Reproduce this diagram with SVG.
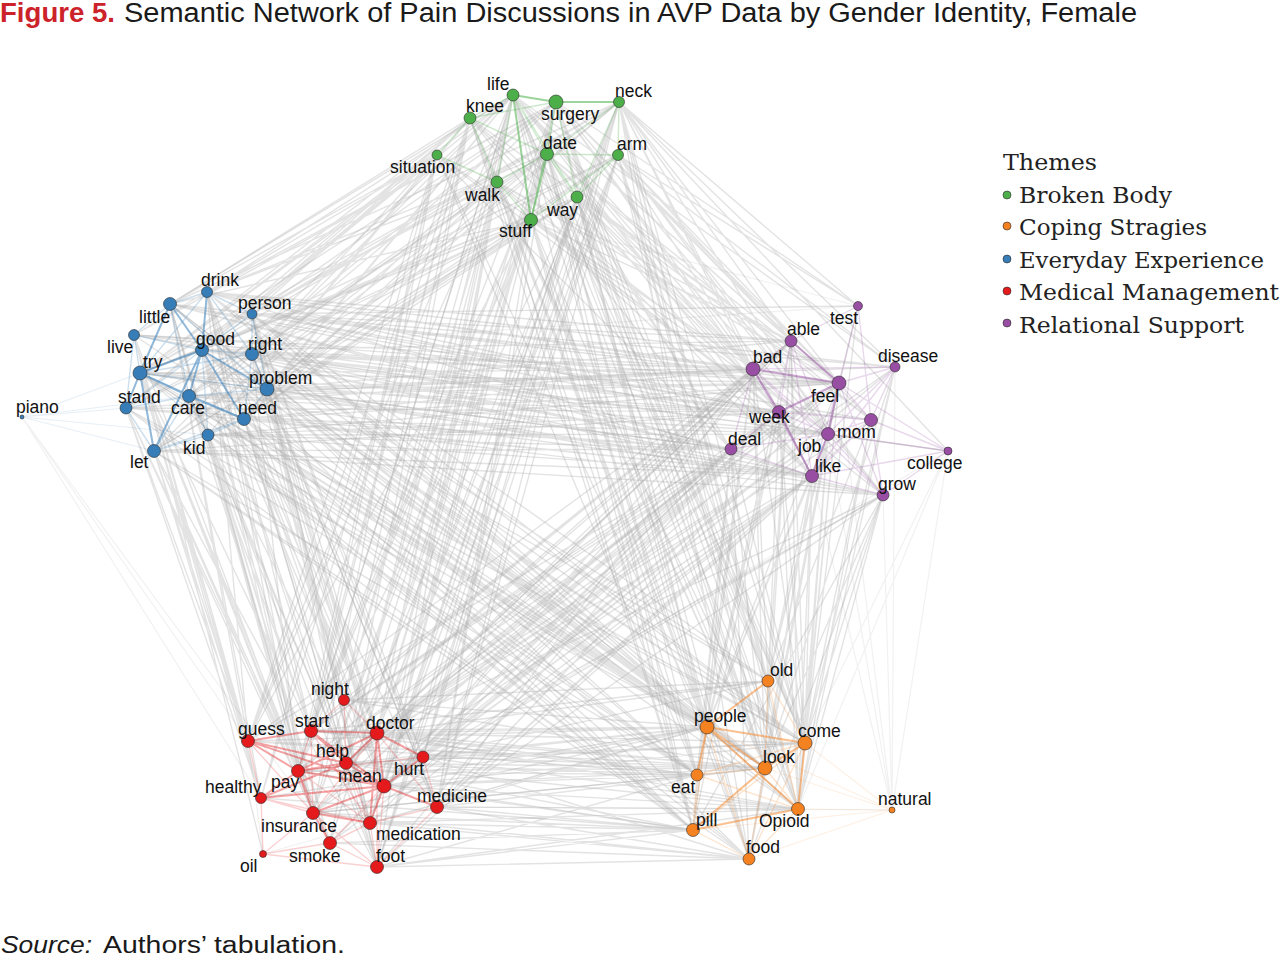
<svg xmlns="http://www.w3.org/2000/svg" width="1280" height="959" viewBox="0 0 1280 959">
<style>
.e{fill:none;stroke:#a8a8a8;stroke-opacity:.32;stroke-width:1.4}
.ef{fill:none;stroke:#a8a8a8;stroke-opacity:.16;stroke-width:1.2}
.gS{fill:none;stroke:#4daf4a;stroke-opacity:.55;stroke-width:2}
.gW{fill:none;stroke:#4daf4a;stroke-opacity:.28;stroke-width:1.4}
.bS{fill:none;stroke:#377eb8;stroke-opacity:.55;stroke-width:2}
.bW{fill:none;stroke:#377eb8;stroke-opacity:.25;stroke-width:1.4}
.pS{fill:none;stroke:#984ea3;stroke-opacity:.5;stroke-width:2}
.pW{fill:none;stroke:#984ea3;stroke-opacity:.22;stroke-width:1.4}
.rS{fill:none;stroke:#e41a1c;stroke-opacity:.4;stroke-width:2}
.rW{fill:none;stroke:#e41a1c;stroke-opacity:.2;stroke-width:1.4}
.oS{fill:none;stroke:#f58220;stroke-opacity:.5;stroke-width:2}
.oW{fill:none;stroke:#f58220;stroke-opacity:.22;stroke-width:1.4}
.oF{fill:none;stroke:#f58220;stroke-opacity:.12;stroke-width:1.2}
.bF{fill:none;stroke:#377eb8;stroke-opacity:.12;stroke-width:1.2}
.nd{stroke:#2a2a2a;stroke-opacity:.75;stroke-width:.8}
.G{fill:#4daf4a}.B{fill:#377eb8}.P{fill:#984ea3}.R{fill:#e41a1c}.O{fill:#f58220}
.lb{font-family:"Liberation Sans",Arial,sans-serif;font-size:17.5px;fill:#111}
.lg{font-family:"DejaVu Serif","Liberation Serif",serif;font-size:22px;fill:#222}
</style>
<rect width="1280" height="959" fill="#fff"/>
<g id="title">
<text x="0" y="22" font-family="Liberation Sans,Arial,sans-serif" font-size="27" font-weight="bold" fill="#cc2229" textLength="115" lengthAdjust="spacingAndGlyphs">Figure 5.</text>
<text x="124" y="22" font-family="Liberation Sans,Arial,sans-serif" font-size="27" fill="#1a1a1a" textLength="1013" lengthAdjust="spacingAndGlyphs">Semantic Network of Pain Discussions in AVP Data by Gender Identity, Female</text>
</g>
<g id="connectors">
<path class="e" d="M513 95L207 292M513 95L202 350M513 95L140 373M513 95L267 389M513 95L244 419M513 95L154 451M470 118L170 304M470 118L252 314M470 118L202 350M470 118L140 373M470 118L126 408M470 118L208 435M556 102L207 292M556 102L252 354M556 102L267 389M556 102L189 396M556 102L134 335M619 102L252 314M619 102L202 350M619 102L244 419M619 102L140 373M619 102L170 304M547 154L207 292M547 154L252 354M547 154L140 373M547 154L189 396M547 154L154 451M547 154L267 389M618 155L202 350M618 155L267 389M618 155L244 419M618 155L126 408M437 155L170 304M437 155L134 335M437 155L140 373M437 155L202 350M437 155L252 354M437 155L126 408M437 155L208 435M497 182L207 292M497 182L252 314M497 182L189 396M497 182L244 419M497 182L154 451M577 197L202 350M577 197L140 373M577 197L267 389M577 197L208 435M531 220L170 304M531 220L252 354M531 220L189 396M531 220L154 451M531 220L244 419M531 220L126 408"/>
<path class="e" d="M513 95L791 341M513 95L753 369M513 95L839 383M513 95L779 412M513 95L828 434M513 95L812 476M513 95L895 367M470 118L753 369M470 118L839 383M470 118L731 449M470 118L812 476M556 102L791 341M556 102L753 369M556 102L839 383M556 102L858 306M556 102L871 420M556 102L779 412M556 102L883 495M619 102L791 341M619 102L753 369M619 102L895 367M619 102L839 383M619 102L858 306M619 102L828 434M619 102L812 476M619 102L948 451M547 154L753 369M547 154L779 412M547 154L731 449M547 154L839 383M547 154L871 420M618 155L791 341M618 155L753 369M618 155L895 367M618 155L839 383M618 155L828 434M618 155L883 495M618 155L858 306M437 155L753 369M437 155L779 412M437 155L731 449M497 182L791 341M497 182L839 383M497 182L828 434M497 182L812 476M577 197L753 369M577 197L839 383M577 197L731 449M577 197L779 412M577 197L812 476M577 197L871 420M531 220L791 341M531 220L753 369M531 220L779 412M531 220L828 434M531 220L883 495"/>
<path class="e" d="M513 95L311 731M513 95L377 733M513 95L248 741M513 95L346 763M513 95L384 786M513 95L313 813M513 95L377 867M470 118L344 700M470 118L311 731M470 118L248 741M470 118L298 771M470 118L261 798M470 118L330 843M556 102L377 733M556 102L346 763M556 102L384 786M556 102L437 807M556 102L370 823M619 102L377 733M619 102L423 757M619 102L384 786M619 102L377 867M547 154L311 731M547 154L377 733M547 154L298 771M547 154L313 813M547 154L330 843M547 154L437 807M618 155L377 733M618 155L384 786M618 155L370 823M437 155L248 741M437 155L261 798M437 155L298 771M437 155L311 731M437 155L313 813M497 182L344 700M497 182L377 733M497 182L346 763M497 182L384 786M497 182L377 867M497 182L248 741M577 197L377 733M577 197L423 757M577 197L370 823M577 197L298 771M531 220L311 731M531 220L248 741M531 220L384 786M531 220L313 813M531 220L330 843M531 220L437 807"/>
<path class="e" d="M513 95L707 727M513 95L765 768M513 95L805 743M513 95L693 830M470 118L707 727M470 118L697 775M470 118L765 768M556 102L768 681M556 102L707 727M556 102L805 743M556 102L765 768M556 102L798 809M619 102L768 681M619 102L805 743M619 102L765 768M619 102L798 809M619 102L749 859M547 154L707 727M547 154L697 775M547 154L765 768M547 154L693 830M618 155L768 681M618 155L805 743M618 155L798 809M618 155L765 768M437 155L707 727M437 155L697 775M497 182L707 727M497 182L765 768M497 182L749 859M577 197L768 681M577 197L707 727M577 197L805 743M577 197L798 809M531 220L707 727M531 220L697 775M531 220L765 768M531 220L693 830M531 220L749 859"/>
<path class="e" d="M207 292L791 341M207 292L753 369M207 292L839 383M207 292L779 412M207 292L828 434M207 292L895 367M170 304L753 369M170 304L839 383M170 304L731 449M170 304L812 476M252 314L791 341M252 314L753 369M252 314L839 383M252 314L871 420M252 314L858 306M252 314L895 367M252 314L779 412M134 335L753 369M134 335L779 412M134 335L731 449M202 350L791 341M202 350L753 369M202 350L839 383M202 350L779 412M202 350L828 434M202 350L812 476M202 350L883 495M252 354L753 369M252 354L839 383M252 354L731 449M252 354L871 420M252 354L948 451M140 373L753 369M140 373L779 412M140 373L828 434M140 373L812 476M267 389L791 341M267 389L753 369M267 389L839 383M267 389L779 412M267 389L731 449M267 389L812 476M267 389L883 495M267 389L895 367M126 408L753 369M126 408L731 449M126 408L812 476M189 396L839 383M189 396L779 412M189 396L828 434M244 419L753 369M244 419L839 383M244 419L731 449M244 419L812 476M244 419L883 495M244 419L828 434M208 435L779 412M208 435L731 449M208 435L812 476M154 451L812 476M154 451L883 495M154 451L731 449"/>
<path class="e" d="M207 292L311 731M207 292L377 733M207 292L248 741M207 292L384 786M207 292L313 813M170 304L248 741M170 304L298 771M170 304L261 798M170 304L330 843M252 314L377 733M252 314L346 763M252 314L384 786M252 314L423 757M252 314L437 807M134 335L248 741M134 335L261 798M134 335L298 771M134 335L263 854M202 350L311 731M202 350L377 733M202 350L346 763M202 350L384 786M202 350L298 771M202 350L313 813M202 350L377 867M252 354L377 733M252 354L423 757M252 354L384 786M252 354L370 823M140 373L248 741M140 373L311 731M140 373L298 771M140 373L261 798M140 373L330 843M140 373L313 813M267 389L377 733M267 389L423 757M267 389L437 807M267 389L384 786M267 389L344 700M267 389L377 867M126 408L248 741M126 408L261 798M126 408L298 771M126 408L313 813M189 396L311 731M189 396L346 763M189 396L384 786M189 396L330 843M244 419L377 733M244 419L384 786M244 419L437 807M244 419L370 823M244 419L377 867M244 419L344 700M208 435L311 731M208 435L298 771M208 435L313 813M208 435L330 843M154 451L248 741M154 451L261 798M154 451L313 813M154 451L377 867M154 451L330 843"/>
<path class="e" d="M207 292L707 727M207 292L765 768M207 292L805 743M170 304L707 727M170 304L697 775M252 314L707 727M252 314L805 743M252 314L765 768M252 314L798 809M252 314L768 681M202 350L707 727M202 350L765 768M202 350L697 775M202 350L693 830M202 350L805 743M252 354L768 681M252 354L707 727M252 354L805 743M252 354L765 768M140 373L707 727M140 373L693 830M140 373L697 775M267 389L768 681M267 389L707 727M267 389L805 743M267 389L765 768M267 389L798 809M267 389L749 859M126 408L697 775M126 408L693 830M189 396L707 727M189 396L765 768M244 419L707 727M244 419L805 743M244 419L765 768M244 419L798 809M244 419L693 830M244 419L749 859M208 435L697 775M208 435L693 830M208 435L749 859M154 451L693 830M154 451L749 859"/>
<path class="e" d="M791 341L344 700M791 341L377 733M791 341L311 731M791 341L384 786M753 369L377 733M753 369L248 741M753 369L311 731M753 369L346 763M753 369L384 786M753 369L313 813M895 367L377 733M895 367L384 786M895 367L423 757M839 383L377 733M839 383L311 731M839 383L346 763M839 383L384 786M839 383L298 771M839 383L437 807M779 412L377 733M779 412L423 757M779 412L384 786M779 412L313 813M779 412L370 823M871 420L377 733M871 420L437 807M828 434L377 733M828 434L423 757M828 434L384 786M828 434L346 763M731 449L311 731M731 449L377 733M731 449L248 741M731 449L298 771M731 449L313 813M731 449L330 843M731 449L377 867M812 476L377 733M812 476L384 786M812 476L437 807M812 476L370 823M812 476L377 867M812 476L423 757M883 495L377 733M883 495L423 757M883 495L437 807"/>
<path class="e" d="M791 341L768 681M791 341L707 727M791 341L805 743M791 341L765 768M791 341L697 775M753 369L768 681M753 369L707 727M753 369L765 768M753 369L697 775M753 369L693 830M895 367L805 743M895 367L798 809M895 367L765 768M839 383L768 681M839 383L707 727M839 383L805 743M839 383L765 768M839 383L798 809M839 383L749 859M779 412L707 727M779 412L765 768M779 412L697 775M779 412L693 830M871 420L805 743M871 420L798 809M871 420L768 681M828 434L768 681M828 434L707 727M828 434L805 743M828 434L765 768M828 434L798 809M731 449L707 727M731 449L697 775M731 449L693 830M731 449L749 859M731 449L765 768M812 476L768 681M812 476L707 727M812 476L805 743M812 476L765 768M812 476L798 809M812 476L749 859M883 495L805 743M883 495L798 809M883 495L765 768M858 306L805 743M858 306L768 681"/>
<path class="e" d="M344 700L768 681M344 700L707 727M344 700L765 768M311 731L707 727M311 731L805 743M311 731L765 768M377 733L768 681M377 733L707 727M377 733L805 743M377 733L765 768M377 733L798 809M377 733L697 775M346 763L707 727M346 763L765 768M346 763L697 775M346 763L693 830M423 757L768 681M423 757L707 727M423 757L805 743M423 757L765 768M423 757L798 809M423 757L749 859M384 786L707 727M384 786L805 743M384 786L765 768M384 786L798 809M384 786L693 830M384 786L697 775M437 807L707 727M437 807L765 768M437 807L798 809M437 807L693 830M437 807L749 859M313 813L697 775M313 813L693 830M313 813L749 859M370 823L707 727M370 823L798 809M370 823L693 830M370 823L749 859M330 843L693 830M330 843L749 859M377 867L693 830M377 867L749 859M377 867L798 809M377 867L697 775M248 741L707 727M298 771L707 727M298 771L765 768"/>
<path class="e" d="M513 95L170 304M513 95L189 396M556 102L202 350M556 102L140 373M619 102L267 389M619 102L252 354M577 197L244 419M577 197L154 451M531 220L202 350M531 220L140 373M619 102L437 807M619 102L346 763M618 155L423 757M618 155L437 807M618 155L377 867M577 197L384 786M577 197L377 867M556 102L311 731M513 95L298 771M170 304L779 412M170 304L828 434M134 335L839 383M140 373L839 383M140 373L731 449M126 408L779 412M208 435L828 434M208 435L839 383M154 451L779 412M189 396L753 369M189 396L812 476M207 292L812 476"/>
<path class="e" d="M207 292L346 763M207 292L298 771M170 304L313 813M252 314L370 823M252 314L377 867M252 354L298 771M252 354L437 807M208 435L377 867M208 435L346 763M170 304L765 768M134 335L707 727M140 373L765 768M140 373L805 743M126 408L707 727M189 396L697 775M189 396L693 830M208 435L707 727M154 451L697 775M791 341L346 763M791 341L298 771M753 369L298 771M753 369L437 807M779 412L311 731M779 412L346 763M731 449L384 786M731 449L346 763M812 476L313 813M812 476L330 843M883 495L384 786"/>
<path class="e" d="M791 341L798 809M753 369L805 743M779 412L805 743M779 412L798 809M731 449L805 743M883 495L749 859M883 495L693 830M248 741L765 768M248 741L697 775M311 731L768 681M311 731L697 775M346 763L805 743M346 763L798 809M261 798L693 830M261 798L707 727M298 771L693 830M298 771L697 775M313 813L707 727M313 813L765 768M513 95L768 681M513 95L798 809M470 118L693 830M547 154L805 743M547 154L749 859M497 182L693 830M497 182L798 809M577 197L765 768M577 197L749 859"/>
<path class="ef" d="M22 417L248 741M22 417L261 798M22 417L313 813M948 451L798 809M948 451L892 810M948 451L805 743M895 367L892 810M883 495L892 810M437 807L892 810M892 810L828 434M892 810L812 476M892 810L839 383M263 854L707 727M263 854L248 741M858 306L531 220M858 306L202 350M948 451L252 354M948 451L384 786"/>
<path class="gW" d="M513 95L547 154M513 95L470 118M513 95L497 182M513 95L577 197M470 118L547 154M470 118L497 182M619 102L618 155M619 102L547 154M556 102L547 154M556 102L531 220M556 102L577 197M547 154L497 182M547 154L577 197M618 155L577 197M618 155L531 220M437 155L497 182M437 155L470 118M619 102L577 197M531 220L497 182M618 155L547 154M470 118L556 102"/>
<path class="gS" d="M556 102L619 102M513 95L556 102M513 95L531 220M547 154L531 220"/>
<path class="bF" d="M22 417L154 451M22 417L126 408M22 417L140 373M22 417L202 350M22 417L189 396M22 417L208 435"/>
<path class="bW" d="M207 292L140 373M207 292L170 304M207 292L252 354M207 292L252 314M252 314L202 350M252 314L252 354M252 314L267 389M134 335L140 373M134 335L202 350M134 335L170 304M252 354L202 350M252 354L267 389M252 354L244 419M267 389L244 419M267 389L189 396M267 389L140 373M126 408L154 451M126 408L189 396M189 396L208 435M189 396L154 451M208 435L244 419M208 435L154 451M208 435L202 350M154 451L244 419M134 335L126 408M140 373L252 354M140 373L244 419M126 408L202 350M170 304L189 396M170 304L267 389"/>
<path class="bS" d="M170 304L202 350M170 304L140 373M140 373L202 350M202 350L244 419M140 373L154 451M140 373L189 396M189 396L244 419M207 292L202 350M202 350L154 451M202 350L189 396M140 373L126 408M202 350L267 389"/>
<path class="pW" d="M791 341L753 369M791 341L779 412M791 341L828 434M753 369L731 449M753 369L828 434M753 369L895 367M858 306L839 383M858 306L871 420M858 306L791 341M895 367L839 383M895 367L871 420M895 367L828 434M895 367L812 476M839 383L871 420M839 383L812 476M839 383L883 495M779 412L731 449M779 412L871 420M779 412L828 434M871 420L828 434M871 420L883 495M871 420L812 476M828 434L883 495M731 449L812 476M731 449L828 434M812 476L883 495M948 451L828 434M948 451L871 420M948 451L839 383M948 451L812 476M948 451L883 495M753 369L812 476M753 369L883 495M791 341L812 476"/>
<path class="pS" d="M753 369L839 383M839 383L779 412M839 383L828 434M828 434L812 476M753 369L779 412M791 341L839 383M779 412L812 476"/>
<path class="rW" d="M344 700L311 731M344 700L377 733M344 700L346 763M423 757L437 807M437 807L370 823M437 807L377 867M370 823L377 867M370 823L330 843M330 843L377 867M263 854L313 813M263 854L330 843M263 854L377 867M263 854L261 798M248 741L261 798M248 741L313 813M261 798L313 813M261 798L370 823M311 731L313 813M311 731L298 771M311 731L370 823M377 733L313 813M377 733L377 867M377 733L437 807M346 763L370 823M423 757L298 771M298 771L370 823M298 771L330 843M384 786L377 867M384 786L330 843M313 813L377 867"/>
<path class="rS" d="M248 741L311 731M311 731L377 733M311 731L346 763M311 731L384 786M377 733L346 763M377 733L384 786M377 733L298 771M377 733L370 823M346 763L384 786M298 771L384 786M298 771L313 813M298 771L346 763M384 786L313 813M384 786L370 823M384 786L437 807M248 741L298 771M248 741L346 763M248 741L384 786M423 757L377 733M423 757L384 786M313 813L370 823M313 813L330 843M261 798L298 771M261 798L384 786M261 798L346 763"/>
<path class="oF" d="M892 810L805 743M892 810L798 809M892 810L765 768M892 810L693 830M892 810L749 859M892 810L707 727"/>
<path class="oW" d="M768 681L765 768M768 681L805 743M768 681L798 809M697 775L693 830M697 775L765 768M697 775L805 743M693 830L749 859M798 809L749 859M765 768L749 859M765 768L798 809M707 727L693 830M707 727L749 859M805 743L693 830M697 775L798 809M805 743L749 859"/>
<path class="oS" d="M707 727L805 743M707 727L798 809M765 768L805 743M805 743L798 809M707 727L765 768M765 768L693 830M693 830L798 809M768 681L707 727M707 727L697 775"/>
</g>
<g id="n-life"><circle class="nd G" cx="513" cy="95" r="6"/><text class="lb" x="487" y="90">life</text></g>
<g id="n-knee"><circle class="nd G" cx="470" cy="118" r="6"/><text class="lb" x="466" y="112">knee</text></g>
<g id="n-surgery"><circle class="nd G" cx="556" cy="102" r="7"/><text class="lb" x="541" y="120">surgery</text></g>
<g id="n-neck"><circle class="nd G" cx="619" cy="102" r="5.5"/><text class="lb" x="615" y="97">neck</text></g>
<g id="n-date"><circle class="nd G" cx="547" cy="154" r="6.5"/><text class="lb" x="543" y="149">date</text></g>
<g id="n-arm"><circle class="nd G" cx="618" cy="155" r="5.5"/><text class="lb" x="617" y="150">arm</text></g>
<g id="n-situation"><circle class="nd G" cx="437" cy="155" r="5"/><text class="lb" x="390" y="173">situation</text></g>
<g id="n-walk"><circle class="nd G" cx="497" cy="182" r="6"/><text class="lb" x="465" y="201">walk</text></g>
<g id="n-way"><circle class="nd G" cx="577" cy="197" r="6"/><text class="lb" x="547" y="216">way</text></g>
<g id="n-stuff"><circle class="nd G" cx="531" cy="220" r="6.5"/><text class="lb" x="499" y="237">stuff</text></g>
<g id="n-drink"><circle class="nd B" cx="207" cy="292" r="5.5"/><text class="lb" x="201" y="286">drink</text></g>
<g id="n-little"><circle class="nd B" cx="170" cy="304" r="6.5"/><text class="lb" x="139" y="323">little</text></g>
<g id="n-person"><circle class="nd B" cx="252" cy="314" r="5"/><text class="lb" x="238" y="309">person</text></g>
<g id="n-live"><circle class="nd B" cx="134" cy="335" r="5.5"/><text class="lb" x="107" y="353">live</text></g>
<g id="n-good"><circle class="nd B" cx="202" cy="350" r="6.5"/><text class="lb" x="196" y="345">good</text></g>
<g id="n-right"><circle class="nd B" cx="252" cy="354" r="6.5"/><text class="lb" x="248" y="350">right</text></g>
<g id="n-try"><circle class="nd B" cx="140" cy="373" r="7"/><text class="lb" x="143" y="368">try</text></g>
<g id="n-problem"><circle class="nd B" cx="267" cy="389" r="7"/><text class="lb" x="249" y="384">problem</text></g>
<g id="n-stand"><circle class="nd B" cx="126" cy="408" r="6"/><text class="lb" x="118" y="403">stand</text></g>
<g id="n-care"><circle class="nd B" cx="189" cy="396" r="6.5"/><text class="lb" x="171" y="414">care</text></g>
<g id="n-need"><circle class="nd B" cx="244" cy="419" r="6.5"/><text class="lb" x="238" y="414">need</text></g>
<g id="n-kid"><circle class="nd B" cx="208" cy="435" r="6"/><text class="lb" x="183" y="454">kid</text></g>
<g id="n-let"><circle class="nd B" cx="154" cy="451" r="6.5"/><text class="lb" x="130" y="468">let</text></g>
<g id="n-piano"><circle class="nd B" cx="22" cy="417" r="2"/><text class="lb" x="16" y="413">piano</text></g>
<g id="n-test"><circle class="nd P" cx="858" cy="306" r="4.5"/><text class="lb" x="830" y="324">test</text></g>
<g id="n-able"><circle class="nd P" cx="791" cy="341" r="6"/><text class="lb" x="787" y="335">able</text></g>
<g id="n-bad"><circle class="nd P" cx="753" cy="369" r="7"/><text class="lb" x="753" y="363">bad</text></g>
<g id="n-disease"><circle class="nd P" cx="895" cy="367" r="5"/><text class="lb" x="878" y="362">disease</text></g>
<g id="n-feel"><circle class="nd P" cx="839" cy="383" r="7"/><text class="lb" x="811" y="402">feel</text></g>
<g id="n-week"><circle class="nd P" cx="779" cy="412" r="6.5"/><text class="lb" x="749" y="423">week</text></g>
<g id="n-mom"><circle class="nd P" cx="871" cy="420" r="6.5"/><text class="lb" x="837" y="438">mom</text></g>
<g id="n-job"><circle class="nd P" cx="828" cy="434" r="6.5"/><text class="lb" x="798" y="452">job</text></g>
<g id="n-deal"><circle class="nd P" cx="731" cy="449" r="6"/><text class="lb" x="728" y="445">deal</text></g>
<g id="n-like"><circle class="nd P" cx="812" cy="476" r="6.5"/><text class="lb" x="815" y="472">like</text></g>
<g id="n-college"><circle class="nd P" cx="948" cy="451" r="4"/><text class="lb" x="907" y="469">college</text></g>
<g id="n-grow"><circle class="nd P" cx="883" cy="495" r="6"/><text class="lb" x="878" y="490">grow</text></g>
<g id="n-night"><circle class="nd R" cx="344" cy="700" r="5.5"/><text class="lb" x="311" y="695">night</text></g>
<g id="n-start"><circle class="nd R" cx="311" cy="731" r="6.5"/><text class="lb" x="295" y="727">start</text></g>
<g id="n-doctor"><circle class="nd R" cx="377" cy="733" r="7"/><text class="lb" x="366" y="729">doctor</text></g>
<g id="n-guess"><circle class="nd R" cx="248" cy="741" r="6.5"/><text class="lb" x="238" y="735">guess</text></g>
<g id="n-help"><circle class="nd R" cx="346" cy="763" r="6.5"/><text class="lb" x="316" y="757">help</text></g>
<g id="n-hurt"><circle class="nd R" cx="423" cy="757" r="6"/><text class="lb" x="394" y="775">hurt</text></g>
<g id="n-pay"><circle class="nd R" cx="298" cy="771" r="6.5"/><text class="lb" x="271" y="788">pay</text></g>
<g id="n-mean"><circle class="nd R" cx="384" cy="786" r="7"/><text class="lb" x="338" y="782">mean</text></g>
<g id="n-healthy"><circle class="nd R" cx="261" cy="798" r="5.5"/><text class="lb" x="205" y="793">healthy</text></g>
<g id="n-medicine"><circle class="nd R" cx="437" cy="807" r="6.5"/><text class="lb" x="417" y="802">medicine</text></g>
<g id="n-insurance"><circle class="nd R" cx="313" cy="813" r="6.5"/><text class="lb" x="261" y="832">insurance</text></g>
<g id="n-medication"><circle class="nd R" cx="370" cy="823" r="6.5"/><text class="lb" x="376" y="840">medication</text></g>
<g id="n-smoke"><circle class="nd R" cx="330" cy="843" r="6.5"/><text class="lb" x="289" y="862">smoke</text></g>
<g id="n-oil"><circle class="nd R" cx="263" cy="854" r="3.5"/><text class="lb" x="240" y="872">oil</text></g>
<g id="n-foot"><circle class="nd R" cx="377" cy="867" r="6.5"/><text class="lb" x="376" y="862">foot</text></g>
<g id="n-old"><circle class="nd O" cx="768" cy="681" r="6"/><text class="lb" x="770" y="676">old</text></g>
<g id="n-people"><circle class="nd O" cx="707" cy="727" r="7"/><text class="lb" x="694" y="722">people</text></g>
<g id="n-come"><circle class="nd O" cx="805" cy="743" r="7"/><text class="lb" x="798" y="737">come</text></g>
<g id="n-look"><circle class="nd O" cx="765" cy="768" r="7"/><text class="lb" x="763" y="763">look</text></g>
<g id="n-eat"><circle class="nd O" cx="697" cy="775" r="6"/><text class="lb" x="671" y="793">eat</text></g>
<g id="n-natural"><circle class="nd O" cx="892" cy="810" r="3"/><text class="lb" x="878" y="805">natural</text></g>
<g id="n-opioid"><circle class="nd O" cx="798" cy="809" r="6.5"/><text class="lb" x="759" y="827">Opioid</text></g>
<g id="n-pill"><circle class="nd O" cx="693" cy="830" r="6.5"/><text class="lb" x="696" y="826">pill</text></g>
<g id="n-food"><circle class="nd O" cx="749" cy="859" r="6"/><text class="lb" x="746" y="853">food</text></g>
<g id="legend">
<text class="lg" x="1003" y="170" textLength="94" lengthAdjust="spacingAndGlyphs">Themes</text>
<circle class="nd G" cx="1007" cy="195" r="4"/><text class="lg" x="1019" y="203" textLength="153" lengthAdjust="spacingAndGlyphs">Broken Body</text>
<circle class="nd O" cx="1007" cy="226" r="4"/><text class="lg" x="1019" y="235" textLength="188" lengthAdjust="spacingAndGlyphs">Coping Stragies</text>
<circle class="nd B" cx="1007" cy="259" r="4"/><text class="lg" x="1019" y="268" textLength="245" lengthAdjust="spacingAndGlyphs">Everyday Experience</text>
<circle class="nd R" cx="1007" cy="291" r="4"/><text class="lg" x="1019" y="300" textLength="260" lengthAdjust="spacingAndGlyphs">Medical Management</text>
<circle class="nd P" cx="1007" cy="323" r="4"/><text class="lg" x="1019" y="333" textLength="225" lengthAdjust="spacingAndGlyphs">Relational Support</text>
</g>
<g id="source">
<text x="1" y="953" font-family="Liberation Sans,Arial,sans-serif" font-size="23" font-style="italic" fill="#1a1a1a" textLength="91" lengthAdjust="spacingAndGlyphs">Source:</text>
<text x="103" y="953" font-family="Liberation Sans,Arial,sans-serif" font-size="23" fill="#1a1a1a" textLength="242" lengthAdjust="spacingAndGlyphs">Authors’ tabulation.</text>
</g>
</svg>
